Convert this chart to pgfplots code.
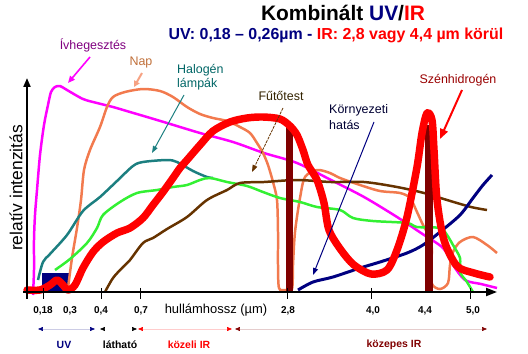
\documentclass[border=0pt]{standalone}
\usepackage{fontspec}
\setmainfont{Liberation Sans}
\usepackage{pgfplots}
\pgfplotsset{compat=1.18}
\usetikzlibrary{arrows.meta}
\definecolor{cmag}{HTML}{FF00FF}
\definecolor{corange}{HTML}{F27A4E}
\definecolor{cteal}{HTML}{1C7F80}
\definecolor{cgreen}{HTML}{33F033}
\definecolor{cbrown}{HTML}{663300}
\definecolor{cnavy}{HTML}{000080}
\definecolor{cred}{HTML}{FF0000}
\definecolor{cdark}{HTML}{800000}
\definecolor{tpurple}{HTML}{800080}
\definecolor{tnap}{HTML}{C0703A}
\definecolor{tteal}{HTML}{006666}
\definecolor{tfut}{HTML}{332200}
\definecolor{tkorny}{HTML}{000033}
\definecolor{tszen}{HTML}{990000}
\begin{document}
\begin{tikzpicture}
\begin{axis}[
  scale only axis, width=528bp, height=354bp,
  xmin=0, xmax=528, ymin=0, ymax=354, y dir=reverse,
  axis lines=none, clip=false, at={(0,0)}, anchor=south west,
]
\path (axis cs:0,0) rectangle (axis cs:528,354);
% navy rectangle (UV)
\addplot[draw=none, fill=cnavy] coordinates {(42,273) (69,273) (69,292) (42,292)} -- cycle;
% magenta
\addplot[cmag, line width=2.5pt, smooth, tension=0.5] coordinates {
(33,295) (34,270) (34,240) (35,215) (37,190) (40,155) (44,125) (48,105) (51,92) (55,87) (60,86) (67,90) (83,99) (97,103) (113,107) (130,112) (147,117) (167,123) (200,133) (233,142) (264,153) (297,163) (331,180) (364,197) (397,217) (421,233) (443,248) (453,265) (465,280) (481,284) (497,288)};
% orange (Nap)
\addplot[corange, line width=2.5pt, smooth, tension=0.5] coordinates {
(68,288) (72,258) (77,228) (81,200) (84,170) (90,150) (100,127) (107,107) (113,97) (125,92) (143,89) (160,91) (173,97) (187,107) (200,114) (213,118) (227,121) (240,127) (250,133) (257,143) (263,153) (268,165) (273,182) (277,200) (278,232) (278,265) (279,288) (285,290) (292,289) (293,265) (295,232) (300,198) (305,177) (317,170) (330,173) (340,178) (360,185) (380,191) (400,193) (410,198) (417,212) (423,225) (430,238) (432,252) (430,265) (432,284) (440,289) (448,283) (450,265) (453,252) (460,242) (473,237) (487,245) (497,253)};
% teal (Halogen)
\addplot[cteal, line width=2.5pt, smooth, tension=0.5] coordinates {
(38,280) (43,262) (50,254) (67,235) (83,211) (100,197) (117,181) (133,166) (143,162) (167,160) (177,162) (193,171) (207,177) (213,178)};
% green
\addplot[cgreen, line width=2.5pt, smooth, tension=0.5] coordinates {
(55,270) (70,259) (87,243) (97,228) (103,215) (120,202) (137,193) (157,190) (173,187) (187,185) (200,180) (210,178) (227,182) (247,186) (263,192) (280,198) (300,202) (317,207) (340,210) (353,218) (373,221) (407,223) (417,227) (440,228) (447,235) (453,245) (460,258) (460,272) (467,282) (473,292)};
% brown
\addplot[cbrown, line width=2.5pt, smooth, tension=0.5] coordinates {
(105,292) (113,278) (123,267) (130,260) (143,243) (153,238) (167,229) (187,217) (207,200) (227,190) (240,183) (264,182) (297,180) (331,182) (364,182) (397,187) (424,193) (447,200) (471,207) (487,210)};
% navy
\addplot[cnavy, line width=3pt, smooth, tension=0.5] coordinates {
(298,290) (313,282) (333,277) (360,268) (380,262) (407,253) (423,245) (440,232) (460,215) (473,198) (483,185) (492,175)};
% dark red bars
\addplot[draw=none, fill=cdark] coordinates {(286,127) (293,127) (293,292) (286,292)} -- cycle;
\addplot[draw=none, fill=cdark] coordinates {(425,125) (433,125) (433,292) (425,292)} -- cycle;
% thick red
\addplot[cred, line width=7.5pt, smooth, tension=0.5, line cap=round, line join=round] coordinates {
(27,290) (40,290) (50,285) (57,280) (63,285) (68,290) (75,285) (83,268) (93,252) (103,242) (117,233) (130,228) (143,218) (153,205) (163,192) (173,178) (180,168) (187,160) (200,145) (213,131) (230,122) (247,118) (263,117) (280,119) (290,126) (297,135) (303,150) (308,165) (317,180) (324,203) (329,230) (341,250) (354,265) (371,274) (387,270) (397,250) (407,217) (417,167) (422,133) (427,113) (432,120) (434,150) (437,200) (444,240) (457,266) (474,273) (490,277)};
\end{axis}
\begin{scope}[x=1bp, y=-1bp, shift={(0,354bp)}]
% axes
\draw[line width=2pt, -{Triangle[length=9pt,width=7pt]}] (27,299) -- (27,78);
\draw[line width=2pt, -{Triangle[length=11pt,width=8pt]}] (23,292) -- (497,292);
\foreach \t in {43,101,140,287,371,470} {\draw[line width=1pt] (\t,288) -- (\t,299);}
% tick labels
\tikzset{tl/.style={font=\fontsize{10}{11}\selectfont\bfseries, anchor=center}}
\node[tl] at (43,311) {0,18};
\node[tl] at (70,311) {0,3};
\node[tl] at (101,311) {0,4};
\node[tl] at (141,311) {0,7};
\node[font=\fontsize{13}{14}\selectfont] at (216,310) {hull\char"E1 mhossz (\char"B5 m)};
\node[tl] at (288,311) {2,8};
\node[tl] at (373,311) {4,0};
\node[tl] at (425,311) {4,4};
\node[tl] at (473,311) {5,0};
% region arrows
\draw[cnavy!20, line width=0.6pt, {Triangle[length=5pt,width=4pt,color=cnavy]}-{Triangle[length=5pt,width=4pt,color=cnavy]}] (38,329) -- (95,329);
\draw[white, line width=0.6pt, {Triangle[length=5pt,width=4pt,color=black]}-{Triangle[length=5pt,width=4pt,color=black]}] (100,329) -- (137,329);
\draw[cred!20, line width=0.6pt, {Triangle[length=5pt,width=4pt,color=cred]}-{Triangle[length=5pt,width=4pt,color=cred]}] (138,329) -- (232,329);
\draw[cdark!20, line width=0.6pt, {Triangle[length=5pt,width=4pt,color=cdark]}-{Triangle[length=5pt,width=4pt,color=cdark]}] (235,329) -- (487,329);
\tikzset{rl/.style={font=\fontsize{10.5}{11}\selectfont\bfseries, anchor=center}}
\node[rl, text=cnavy] at (64,345) {UV};
\node[rl, text=black] at (120,345) {l\char"E1 that\char"F3};
\node[rl, text=cred] at (189,345) {k\char"F6 zeli IR};
\node[rl, text=cdark] at (394,345) {k\char"F6 zepes IR};
% y label
\node[rotate=90, font=\fontsize{17.5}{18}\selectfont] at (16,188) {relat\char"ED v intenzit\char"E1 s};
% titles
\node[font=\fontsize{21}{23}\selectfont\bfseries] at (343,13) {Kombin\char"E1 lt \textcolor{cnavy}{UV}/\textcolor{cred}{IR}};
\node[font=\fontsize{16}{18}\selectfont\bfseries] at (336,35) {\textcolor{cnavy}{UV: 0,18 \char"2013{} 0,26\char"B5 m -} \textcolor{cred}{IR: 2,8 vagy 4,4 \char"B5 m k\char"F6 r\char"FC l}};
% annotations
\tikzset{lbl/.style={font=\fontsize{12.5}{13}\selectfont, inner sep=0pt}}
\node[lbl, text=tpurple] at (93,45) {\char"CD vhegeszt\char"E9 s};
\draw[cmag, line width=1.6pt, -{Triangle[length=7pt,width=6pt]}] (90,57) -- (68,83);
\node[lbl, text=tnap] at (141,63) {Nap};
\draw[corange!70, line width=2pt, -{Triangle[length=6pt,width=6pt]}] (142,73) -- (134,87);
\node[lbl, text=tteal, anchor=west] at (177,70) {Halog\char"E9 n};
\node[lbl, text=tteal, anchor=west] at (177,84) {l\char"E1 mp\char"E1 k};
\draw[cteal, line width=1pt, -{Triangle[length=7pt,width=5pt]}] (184,95) -- (152,153);
\node[lbl, text=tfut] at (281,96) {F\char"171 t\char"151 test};
\draw[cbrown, line width=0.8pt, dash pattern=on 3pt off 1pt, -{Triangle[length=7pt,width=5pt]}] (283,108) -- (252,172);
\node[lbl, text=tkorny, anchor=west] at (329,110) {K\char"F6 rnyezeti};
\node[lbl, text=tkorny, anchor=west] at (329,125) {hat\char"E1 s};
\draw[cnavy, line width=1pt, -{Triangle[length=7pt,width=5pt]}] (374,122) -- (313,275);
\node[lbl, text=tszen] at (458,80) {Sz\char"E9 nhidrog\char"E9 n};
\draw[cred, line width=2pt, -{Triangle[length=10pt,width=8pt]}] (462,90) -- (440,139);
\end{scope}
\end{tikzpicture}
\end{document}
